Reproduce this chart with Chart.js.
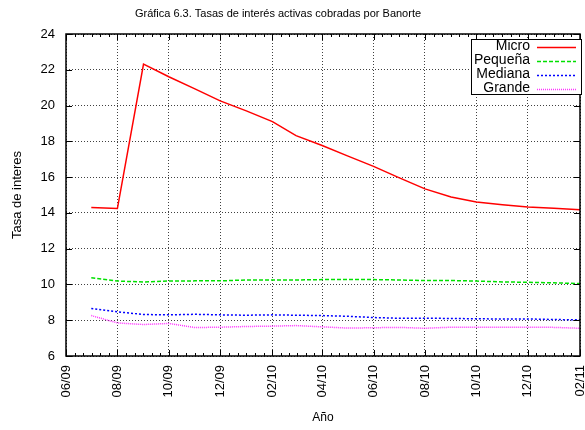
<!DOCTYPE html>
<html><head><meta charset="utf-8">
<script src="https://cdn.jsdelivr.net/npm/chart.js@4/dist/chart.umd.min.js"></script>
<style>html,body{margin:0;padding:0;background:#fff}canvas{display:block}</style>
</head><body>
<canvas id="c" width="585" height="430"></canvas>
<script>
const months = ['2009-07','2009-08','2009-09','2009-10','2009-11','2009-12','2010-01','2010-02','2010-03','2010-04','2010-05','2010-06','2010-07','2010-08','2010-09','2010-10','2010-11','2010-12','2011-01','2011-02'];
const micro   = [14.30,14.24,22.32,21.61,20.93,20.26,19.70,19.10,18.32,17.77,17.19,16.60,15.97,15.34,14.89,14.61,14.46,14.33,14.26,14.18];
const pequena = [10.38,10.19,10.14,10.19,10.20,10.20,10.25,10.25,10.25,10.27,10.27,10.27,10.25,10.22,10.22,10.19,10.14,10.12,10.09,10.05];
const mediana = [8.65,8.47,8.32,8.30,8.33,8.30,8.28,8.30,8.28,8.26,8.22,8.15,8.11,8.11,8.10,8.08,8.07,8.07,8.04,8.02];
const grande  = [8.26,7.85,7.76,7.82,7.59,7.61,7.65,7.67,7.70,7.63,7.56,7.58,7.60,7.55,7.61,7.61,7.61,7.61,7.60,7.55];
const seriesNames = ['Micro','Pequeña','Mediana','Grande'];
const tickLabels = ['06/09','08/09','10/09','12/09','02/10','04/10','06/10','08/10','10/10','12/10','02/11'];
const yTicks = [6,8,10,12,14,16,18,20,22,24];
const titleText = 'Gráfica 6.3. Tasas de interés activas cobradas por Banorte';
const xTitle = 'Año';
const yTitle = 'Tasa de interes';

const DAY = 86400000;
const ORIGIN = Date.UTC(2009,5,1);
function dayOf(y,m){ return (Date.UTC(y,m-1,1)-ORIGIN)/DAY; }
const xs = months.map(s=>{const p=s.split('-').map(Number);return dayOf(p[0],p[1]);});
const tickPos = tickLabels.map(s=>{const p=s.split('/').map(Number);return dayOf(2000+p[1],p[0]);});
const pts = arr => xs.map((x,i)=>({x:x,y:arr[i]}));

const FONT = "'Liberation Sans', Arial, sans-serif";
const styles = [
  {color:'#ff0000', dash:[]},
  {color:'#00e000', dash:[4,2]},
  {color:'#0000ff', dash:[2,2]},
  {color:'#ff33ff', dash:[1,1]}
];
const values = [micro, pequena, mediana, grande];

const framePlugin = {
  id:'frame',
  afterDatasetsDraw(chart){
    const ctx = chart.ctx, a = chart.chartArea;
    const xs_ = chart.scales.x, ys_ = chart.scales.y;
    ctx.save();
    ctx.strokeStyle = '#000';
    ctx.lineWidth = 1;
    ctx.beginPath();
    tickPos.forEach((v,i)=>{
      const px = Math.round(xs_.getPixelForValue(v))+0.5;
      ctx.moveTo(px,a.bottom); ctx.lineTo(px,a.bottom-6);
      ctx.moveTo(px,a.top); ctx.lineTo(px,a.top+6);
      if(i<tickPos.length-1){
        const n = tickPos[i+1]-v;
        for(let k=1;k<6;k++){
          const mx = Math.round(xs_.getPixelForValue(v+n*k/6))+0.5;
          ctx.moveTo(mx,a.bottom); ctx.lineTo(mx,a.bottom-3);
          ctx.moveTo(mx,a.top); ctx.lineTo(mx,a.top+3);
        }
      }
    });
    yTicks.forEach(v=>{
      const py = Math.round(ys_.getPixelForValue(v))+0.5;
      ctx.moveTo(a.left,py); ctx.lineTo(a.left+6,py);
      ctx.moveTo(a.right,py); ctx.lineTo(a.right-6,py);
    });
    ctx.stroke();
    ctx.lineWidth = 1.5;
    ctx.strokeRect(a.left, a.top, a.right-a.left, a.bottom-a.top);
    ctx.restore();
  },
  afterDraw(chart){
    const ctx = chart.ctx;
    ctx.save();
    ctx.fillStyle = '#000';
    ctx.font = '11px ' + FONT;
    ctx.textAlign = 'center';
    ctx.textBaseline = 'middle';
    ctx.fillText(titleText, 278, 13.5);
    const bx = 471, by = 39, bw = 110, bh = 55;
    ctx.fillStyle = '#fff';
    ctx.fillRect(bx, by, bw, bh);
    ctx.strokeStyle = '#000';
    ctx.lineWidth = 1;
    ctx.strokeRect(bx+0.5, by+0.5, bw, bh);
    ctx.font = '14px ' + FONT;
    ctx.textAlign = 'right';
    chart.data.datasets.forEach((ds,i)=>{
      const yy = 46.5 + i*14;
      ctx.fillStyle = '#000';
      ctx.fillText(ds.label, 530, yy);
      ctx.strokeStyle = ds.borderColor;
      ctx.lineWidth = ds.borderWidth;
      ctx.setLineDash(ds.borderDash);
      ctx.beginPath();
      ctx.moveTo(537, Math.round(yy)+0.5); ctx.lineTo(576, Math.round(yy)+0.5);
      ctx.stroke();
      ctx.setLineDash([]);
    });
    ctx.restore();
  }
};

new Chart(document.getElementById('c'), {
  type:'line',
  data:{
    datasets: seriesNames.map((name,i)=>({
      label:name,
      data:pts(values[i]),
      borderColor:styles[i].color,
      borderDash:styles[i].dash,
      borderWidth:1.5,
      pointRadius:0,
      tension:0,
      fill:false
    }))
  },
  options:{
    responsive:false,
    animation:false,
    devicePixelRatio:1,
    layout:{padding:{top:34,right:5,left:0,bottom:0}},
    plugins:{legend:{display:false},tooltip:{enabled:false},title:{display:false}},
    scales:{
      x:{
        type:'linear',
        min:tickPos[0], max:tickPos[tickPos.length-1],
        afterBuildTicks(s){ s.ticks = tickPos.map(v=>({value:v})); },
        afterFit(s){ s.height = 74; s.paddingLeft = 0; s.paddingRight = 0; },
        ticks:{
          autoSkip:false, minRotation:90, maxRotation:90, padding:9,
          color:'#000', font:{family:FONT,size:13},
          callback(v){ const i = tickPos.indexOf(v); return i>=0 ? tickLabels[i] : ''; }
        },
        grid:{color:'rgba(0,0,0,0.75)', lineWidth:1, drawTicks:false},
        border:{display:false, dash:[1,2]},
        title:{display:true, text:xTitle, color:'#000', font:{family:FONT,size:12}, padding:{top:0,bottom:5}}
      },
      y:{
        min:6, max:24,
        afterBuildTicks(s){ s.ticks = yTicks.map(v=>({value:v})); },
        afterFit(s){ s.width = 66; s.paddingTop = 0; s.paddingBottom = 0; },
        ticks:{padding:11, color:'#000', font:{family:FONT,size:13}},
        grid:{color:'rgba(0,0,0,0.75)', lineWidth:1, drawTicks:false},
        border:{display:false, dash:[1,2]},
        title:{display:true, text:yTitle, color:'#000', font:{family:FONT,size:13}, padding:{top:10,bottom:0}}
      }
    }
  },
  plugins:[framePlugin]
});
</script>
</body></html>
